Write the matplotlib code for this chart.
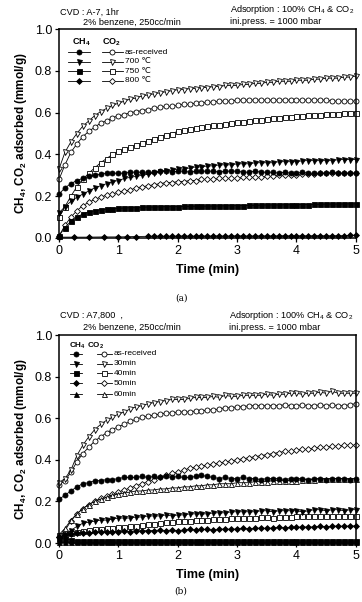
import matplotlib
matplotlib.use("Agg")
import matplotlib.pyplot as plt
from matplotlib.lines import Line2D

plt.rcParams['font.family'] = ['Liberation Sans', 'DejaVu Sans']
plt.rcParams['mathtext.fontset'] = 'custom'
plt.rcParams['mathtext.rm'] = 'Liberation Sans'
plt.rcParams['mathtext.bf'] = 'Liberation Sans:bold'

# sampling times (min)
time = [0.0, 0.1, 0.2, 0.3, 0.4, 0.5, 0.6, 0.7, 0.8, 0.9,
        1.0, 1.1, 1.2, 1.3, 1.4, 1.5, 1.6, 1.7, 1.8, 1.9,
        2.0, 2.1, 2.2, 2.3, 2.4, 2.5, 2.6, 2.7, 2.8, 2.9,
        3.0, 3.1, 3.2, 3.3, 3.4, 3.5, 3.6, 3.7, 3.8, 3.9,
        4.0, 4.1, 4.2, 4.3, 4.4, 4.5, 4.6, 4.7, 4.8, 4.9, 5.0]

# ---- panel (a): CVD temperature ----
a_labels = ['as-received', '700 \u2103', '750 \u2103', '800 \u2103']

a_co2_asr = [.28, .35, .41, .45, .485, .51, .53, .55, .56, .575,
             .585, .59, .60, .605, .61, .615, .62, .625, .63, .63,
             .635, .64, .64, .645, .645, .65, .65, .655, .655, .655,
             .66, .66, .66, .66, .66, .66, .66, .66, .66, .66,
             .66, .66, .66, .66, .66, .66, .655, .655, .655, .655, .655]
a_co2_700 = [.33, .41, .46, .50, .535, .56, .585, .605, .62, .635,
             .645, .655, .665, .67, .68, .685, .69, .695, .70, .705,
             .71, .71, .715, .715, .72, .72, .725, .725, .73, .73,
             .73, .735, .735, .74, .74, .745, .745, .75, .75, .75,
             .755, .755, .755, .76, .76, .765, .765, .765, .77, .77, .775]
a_co2_750 = [.10, .15, .20, .245, .28, .31, .335, .36, .38, .40,
             .415, .425, .435, .445, .455, .465, .475, .485, .495, .50,
             .51, .515, .52, .525, .53, .535, .54, .54, .545, .55,
             .555, .555, .56, .565, .565, .57, .575, .575, .58, .58,
             .585, .585, .59, .59, .59, .595, .595, .595, .60, .60, .60]
a_co2_800 = [.01, .06, .10, .13, .155, .17, .185, .195, .205, .21,
             .22, .225, .23, .24, .245, .25, .255, .26, .265, .265,
             .27, .27, .275, .275, .28, .28, .28, .285, .285, .285,
             .285, .29, .29, .29, .29, .295, .295, .30, .30, .30,
             .30, .305, .305, .305, .31, .31, .31, .31, .31, .31, .31]
a_ch4_asr = [.21, .24, .26, .275, .285, .295, .30, .305, .31, .31,
             .31, .31, .315, .315, .315, .315, .315, .32, .32, .315,
             .32, .32, .315, .32, .32, .32, .32, .315, .32, .32,
             .32, .315, .315, .32, .315, .315, .315, .31, .315, .31,
             .31, .315, .31, .31, .31, .31, .315, .31, .31, .31, .31]
a_ch4_700 = [.12, .15, .175, .195, .21, .225, .24, .25, .26, .27,
             .275, .285, .29, .295, .30, .305, .31, .315, .32, .325,
             .33, .33, .335, .34, .34, .345, .345, .35, .35, .35,
             .355, .355, .355, .36, .36, .36, .36, .365, .365, .365,
             .365, .37, .37, .37, .37, .37, .37, .375, .375, .375, .375]
a_ch4_750 = [.01, .05, .08, .10, .115, .125, .13, .135, .138, .14,
             .142, .143, .145, .145, .147, .148, .148, .149, .15, .15,
             .15, .151, .151, .152, .152, .152, .153, .153, .154, .154,
             .155, .155, .156, .156, .157, .158, .158, .158, .159, .159,
             .16, .16, .16, .161, .161, .162, .162, .162, .163, .163, .163]
a_time_800 = [0.0, 0.25, 0.5, 0.75, 1.0, 1.15, 1.3,
              1.5, 1.6, 1.7, 1.8, 1.9, 2.0, 2.1, 2.2, 2.3, 2.4, 2.5,
              2.6, 2.7, 2.8, 2.9, 3.0, 3.1, 3.2, 3.3, 3.4, 3.5, 3.6,
              3.7, 3.8, 3.9, 4.0, 4.1, 4.2, 4.3, 4.4, 4.5, 4.6, 4.7,
              4.8, 4.9, 5.0]
a_ch4_800 = [.004, .004, .004, .005, .005, .006, .007,
             .008, .009, .009, .008, .009, .009, .01, .009, .009, .01, .009,
             .01, .01, .009, .01, .01, .01, .009, .01, .01, .01, .01,
             .01, .011, .01, .01, .011, .01, .011, .011, .01, .011, .011,
             .011, .012, .013]

# ---- panel (b): CVD time ----
b_labels = ['as-received', '30min', '40min', '50min', '60min']

b_co2_asr = [.28, .30, .34, .39, .43, .46, .49, .51, .53, .545,
             .56, .57, .585, .595, .605, .61, .615, .62, .625, .625,
             .63, .63, .63, .635, .635, .64, .64, .645, .65, .65,
             .655, .655, .66, .66, .66, .66, .66, .66, .665, .66,
             .66, .665, .66, .66, .665, .66, .665, .66, .66, .665, .67]
b_co2_30 = [.29, .31, .35, .42, .47, .51, .545, .57, .59, .605,
            .62, .63, .645, .655, .66, .67, .675, .68, .685, .69,
            .69, .69, .695, .70, .70, .70, .705, .70, .71, .705,
            .705, .71, .71, .71, .71, .715, .71, .715, .715, .72,
            .72, .715, .72, .72, .725, .72, .73, .72, .72, .72, .72]
b_co2_40 = [.04, .045, .05, .055, .06, .062, .065, .068, .07, .072,
            .075, .078, .08, .083, .086, .09, .093, .095, .10, .10,
            .105, .107, .108, .11, .112, .113, .115, .115, .117, .118,
            .12, .12, .12, .122, .123, .125, .122, .125, .126, .127,
            .128, .128, .13, .13, .13, .13, .132, .13, .13, .132, .13]
b_co2_50 = [.03, .06, .105, .14, .165, .185, .20, .215, .225, .235,
            .245, .255, .265, .275, .285, .295, .305, .315, .325, .335,
            .34, .35, .36, .365, .37, .375, .38, .385, .39, .395,
            .40, .405, .41, .415, .42, .425, .43, .435, .44, .44,
            .445, .45, .45, .455, .46, .46, .465, .465, .47, .47, .47]
b_co2_60 = [.04, .07, .11, .14, .165, .185, .20, .21, .22, .23,
            .235, .24, .245, .25, .25, .255, .255, .26, .26, .265,
            .265, .27, .27, .275, .275, .28, .28, .285, .285, .285,
            .29, .29, .29, .295, .295, .295, .30, .30, .30, .30,
            .30, .305, .305, .305, .31, .31, .31, .31, .31, .31, .31]
b_ch4_asr = [.21, .23, .25, .27, .285, .29, .30, .30, .305, .305,
             .31, .315, .315, .315, .32, .315, .32, .315, .32, .315,
             .32, .315, .315, .32, .325, .32, .315, .31, .315, .31,
             .31, .315, .31, .31, .305, .31, .31, .31, .305, .31,
             .31, .31, .305, .31, .31, .305, .31, .31, .31, .305, .31]
b_ch4_30 = [.02, .04, .06, .08, .095, .10, .105, .11, .11, .115,
            .12, .12, .12, .125, .125, .13, .13, .13, .135, .13,
            .135, .135, .14, .14, .14, .14, .145, .145, .145, .15,
            .15, .15, .15, .15, .155, .155, .15, .155, .155, .155,
            .155, .15, .155, .16, .16, .155, .16, .16, .155, .16, .16]
b_ch4_40 = [.02, .02, .015, .012, .01, .01, .01, .01, .01, .01,
            .01, .01, .01, .01, .01, .01, .01, .01, .01, .01,
            .01, .01, .01, .01, .01, .01, .01, .01, .01, .01,
            .01, .01, .01, .01, .01, .01, .01, .01, .01, .01,
            .01, .01, .01, .01, .01, .01, .01, .01, .01, .01, .01]
b_ch4_50 = [.03, .04, .045, .05, .05, .05, .052, .053, .054, .055,
            .055, .057, .055, .06, .058, .06, .06, .062, .06, .062,
            .06, .062, .065, .063, .065, .065, .062, .065, .068, .065,
            .068, .07, .068, .07, .072, .07, .072, .075, .073, .075,
            .075, .078, .076, .078, .08, .078, .08, .082, .08, .082, .082]
b_ch4_60 = [.005, .004, .005, .006, .005, .005, .004, .005, .006, .005,
            .005, .005, .006, .005, .005, .006, .005, .005, .006, .005,
            .005, .006, .005, .005, .006, .005, .005, .006, .005, .005,
            .006, .005, .005, .006, .005, .005, .006, .005, .005, .006,
            .005, .005, .006, .005, .005, .006, .005, .005, .006, .005, .006]

markers = ['o', 'v', 's', 'D', '^']


def msize(m):
    return 3.0 if m == 'D' else 3.6


def draw_series(ax, t, y, m, filled):
    ax.plot(t, y, '-', color='black', lw=0.6, marker=m,
            ms=msize(m), mew=0.6,
            mfc='black' if filled else 'white', mec='black', clip_on=False)


def draw_legend(ax, labels, hx, rows, xc, xl, hfs):
    ax.text(hx[0], hx[2], 'CH$_\\mathbf{4}$', transform=ax.transAxes,
            fontsize=hfs, fontweight='bold', ha='center', va='center')
    ax.text(hx[1], hx[2], 'CO$_\\mathbf{2}$', transform=ax.transAxes,
            fontsize=hfs, fontweight='bold', ha='center', va='center')
    for i, lab in enumerate(labels):
        yy = rows[i]
        for (x0, x1), filled in zip(xc, [True, False]):
            ax.add_line(Line2D([x0, x1], [yy, yy], transform=ax.transAxes,
                               color='black', lw=0.6))
            ax.add_line(Line2D([(x0 + x1) / 2], [yy], transform=ax.transAxes,
                               marker=markers[i], ms=msize(markers[i]),
                               mew=0.6, mec='black',
                               mfc='black' if filled else 'white', lw=0))
        ax.text(xl, yy, lab, transform=ax.transAxes, fontsize=6,
                ha='left', va='center')


def style_axes(ax):
    ax.set_xlim(0, 5)
    ax.set_ylim(0, 1.0)
    ax.set_xticks([0, 1, 2, 3, 4, 5])
    ax.set_yticks([0.0, 0.2, 0.4, 0.6, 0.8, 1.0])
    ax.set_yticklabels(['0.0', '0.2', '0.4', '0.6', '0.8', '1.0'])
    ax.tick_params(direction='out', length=3, width=0.9, labelsize=9, pad=2)
    for s in ax.spines.values():
        s.set_linewidth(1.1)
    ax.set_xlabel('Time (min)', fontsize=9, fontweight='bold', labelpad=5)
    ax.set_ylabel('CH$_\\mathbf{4}$, CO$_\\mathbf{2}$ adsorbed (mmol/g)',
                  fontsize=8.5, fontweight='bold', labelpad=4)


fig = plt.figure(figsize=(3.62, 6.02), dpi=100)

# panel (a)
ax1 = fig.add_axes([0.163, 0.6047, 0.82, 0.347])
draw_series(ax1, time, a_co2_asr, 'o', False)
draw_series(ax1, time, a_co2_700, 'v', False)
draw_series(ax1, time, a_co2_750, 's', False)
draw_series(ax1, time, a_co2_800, 'D', False)
draw_series(ax1, time, a_ch4_asr, 'o', True)
draw_series(ax1, time, a_ch4_700, 'v', True)
draw_series(ax1, time, a_ch4_750, 's', True)
draw_series(ax1, a_time_800, a_ch4_800, 'D', True)
style_axes(ax1)
draw_legend(ax1, a_labels, (0.074, 0.178, 0.938),
            [0.89, 0.843, 0.799, 0.752],
            [(0.03, 0.104), (0.145, 0.215)], 0.222, 6.5)

# panel (b)
ax2 = fig.add_axes([0.163, 0.098, 0.82, 0.3455])
draw_series(ax2, time, b_co2_asr, 'o', False)
draw_series(ax2, time, b_co2_30, 'v', False)
draw_series(ax2, time, b_co2_40, 's', False)
draw_series(ax2, time, b_co2_50, 'D', False)
draw_series(ax2, time, b_co2_60, '^', False)
draw_series(ax2, time, b_ch4_asr, 'o', True)
draw_series(ax2, time, b_ch4_30, 'v', True)
draw_series(ax2, time, b_ch4_40, 's', True)
draw_series(ax2, time, b_ch4_50, 'D', True)
draw_series(ax2, time, b_ch4_60, '^', True)
style_axes(ax2)
draw_legend(ax2, b_labels, (0.062, 0.124, 0.947),
            [0.909, 0.861, 0.816, 0.768, 0.716],
            [(0.037, 0.077), (0.128, 0.178)], 0.185, 5.8)

# header notes
fs = 6.6
fig.text(60 / 362, 1 - 12 / 602, 'CVD : A-7, 1hr', fontsize=fs, va='center')
fig.text(83 / 362, 1 - 22 / 602, '2% benzene, 250cc/min', fontsize=fs, va='center')
fig.text(230 / 362, 1 - 9 / 602, 'Adsorption : 100% CH$_4$ & CO$_2$', fontsize=fs, va='center')
fig.text(230 / 362, 1 - 22 / 602, 'ini.press. = 1000 mbar', fontsize=fs, va='center')

fig.text(60 / 362, 1 - 315 / 602, 'CVD : A7,800  ,', fontsize=fs, va='center')
fig.text(83 / 362, 1 - 327 / 602, '2% benzene, 250cc/min', fontsize=fs, va='center')
fig.text(229 / 362, 1 - 315 / 602, 'Adsorption : 100% CH$_4$ & CO$_2$', fontsize=fs, va='center')
fig.text(229 / 362, 1 - 328 / 602, 'ini.press. = 1000 mbar', fontsize=fs, va='center')

fig.text(181 / 362, 1 - 298 / 602, '(a)', fontsize=6.5, family='DejaVu Serif',
         ha='center', va='center')
fig.text(181 / 362, 1 - 596 / 602, '(b)', fontsize=6.5, family='DejaVu Serif',
         ha='center', va='bottom')

fig.savefig('out.png', dpi=100)
